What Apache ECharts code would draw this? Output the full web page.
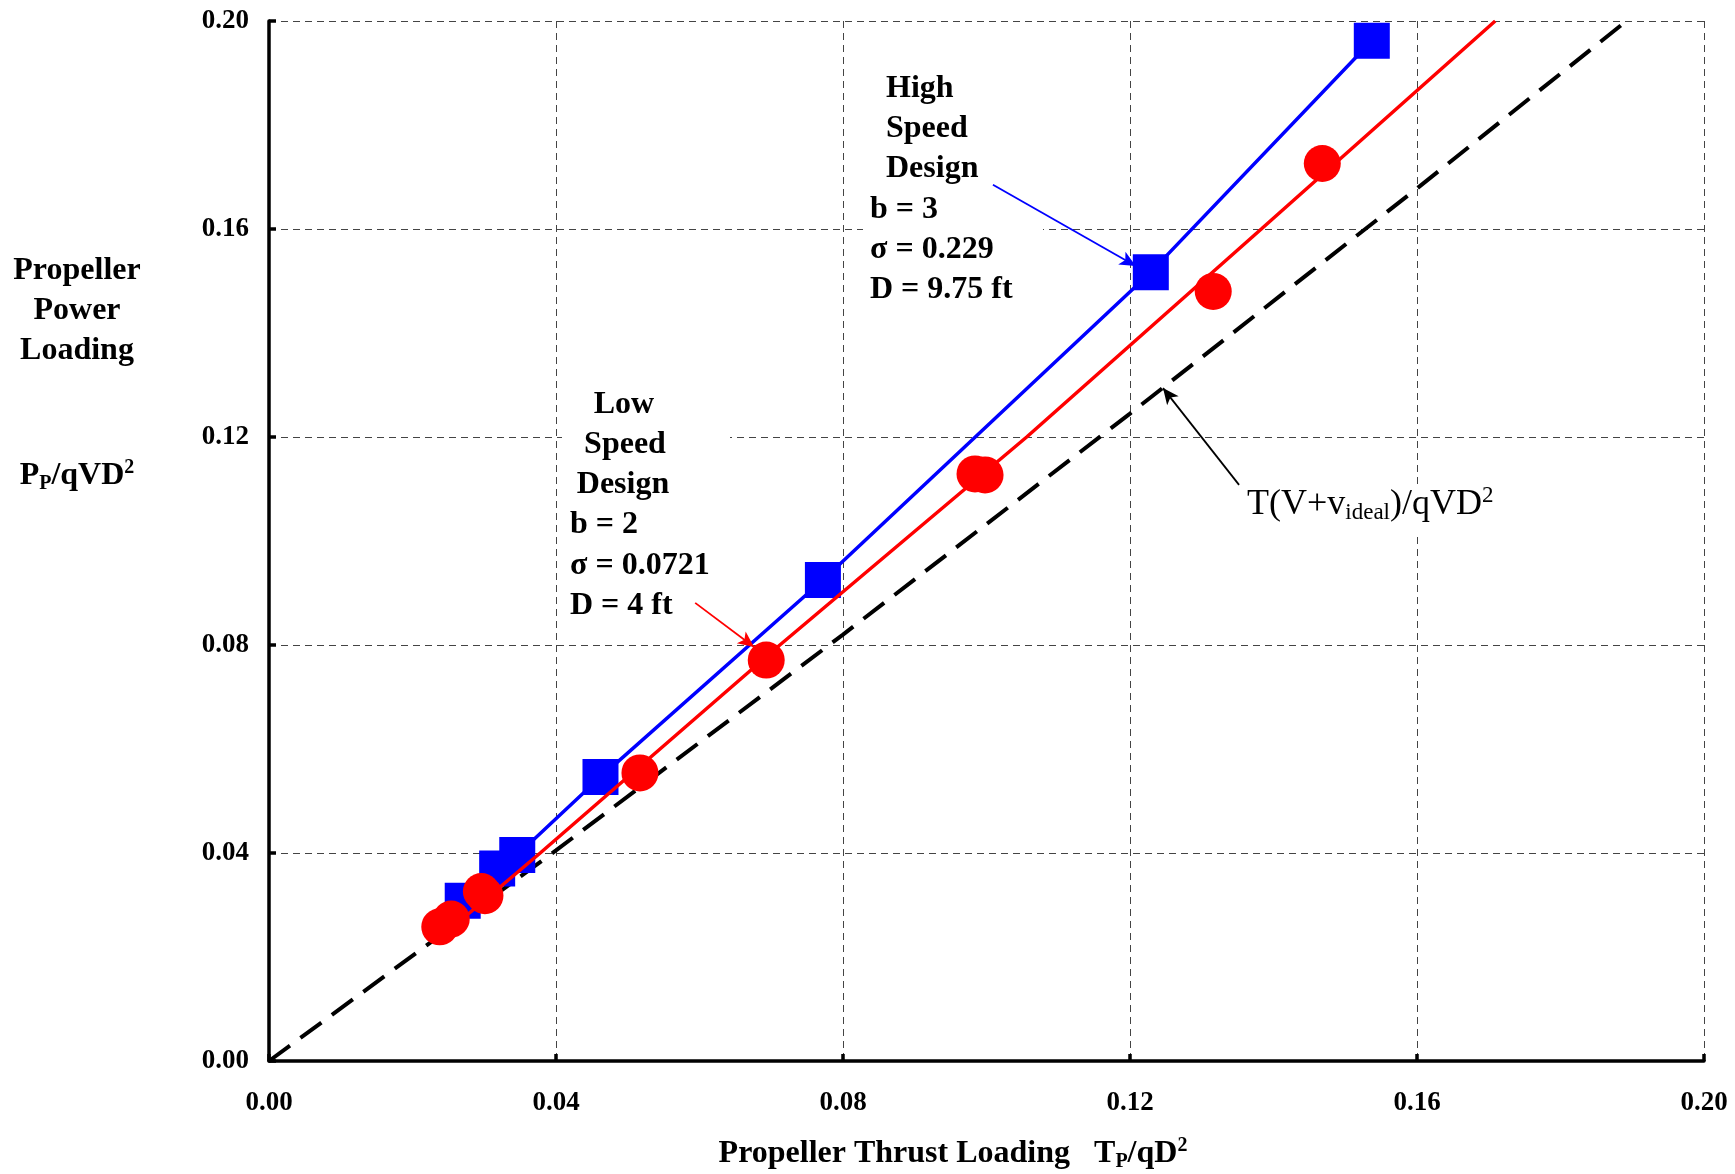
<!DOCTYPE html>
<html>
<head>
<meta charset="utf-8">
<script src="https://cdn.jsdelivr.net/npm/echarts@6/dist/echarts.min.js"></script>
<style>
html,body{margin:0;padding:0;background:#fff;}
#chart{width:1735px;height:1174px;}
</style>
</head>
<body>
<div id="chart"></div>
<script>
// ---- data ----
const xTicks = [0.00, 0.04, 0.08, 0.12, 0.16, 0.20];
const yTicks = [0.00, 0.04, 0.08, 0.12, 0.16, 0.20];

// High speed design (b = 3), blue squares joined by line
const highSpeed = [
  [0.0270, 0.0308], [0.0318, 0.0370], [0.0346, 0.0396], [0.0462, 0.0546],
  [0.0772, 0.0925], [0.1229, 0.1517], [0.1537, 0.1962]
];
// Low speed design (b = 2), red circles
const lowSpeed = [
  [0.0238, 0.0258], [0.0254, 0.0273], [0.0296, 0.0326], [0.0301, 0.0318],
  [0.0517, 0.0554], [0.0693, 0.0771], [0.0984, 0.1129], [0.0998, 0.1127],
  [0.1316, 0.1480], [0.1468, 0.1726]
];
// Red fitted curve through low speed data
const lowSpeedFit = [
  [0.0260, 0.0262], [0.0378, 0.0400], [0.0712, 0.0800], [0.1056, 0.1200],
  [0.1383, 0.1600], [0.1709, 0.2000]
];
// Ideal power  T(V+v_ideal)/qVD^2 (dashed)
const idealPower = [
  [0.000, 0.0000], [0.040, 0.0405], [0.080, 0.0820], [0.120, 0.1245],
  [0.160, 0.1678], [0.189, 0.1998]
];
// annotation arrows (tail -> head), in data units
const arrowHigh  = [[0.1009, 0.1685], [0.1208, 0.1529]];
const arrowLow   = [[0.0594, 0.0881], [0.0676, 0.0796]];
const arrowIdeal = [[0.1352, 0.1108], [0.1246, 0.1294]];

// ---- chart ----
const SERIF = '"Liberation Serif", "Times New Roman", serif';
const chart = echarts.init(document.getElementById('chart'), null, {renderer: 'canvas'});

function arrowLine(pts, color) {
  return {
    silent: true,
    symbol: ['none', 'arrow'],
    symbolSize: [11, 16],
    label: {show: false},
    lineStyle: {color: color, width: 1.8, type: 'solid'},
    emphasis: {disabled: true},
    animation: false,
    data: [[{coord: pts[0]}, {coord: pts[1]}]]
  };
}

const axisCommon = {
  type: 'value',
  min: 0, max: 0.2, interval: 0.04,
  axisLine: {show: true, onZero: false, lineStyle: {color: '#000', width: 3.5}},
  axisTick: {show: true, inside: true, length: 7, lineStyle: {color: '#000', width: 3.5}},
  splitLine: {show: true, lineStyle: {color: '#444', width: 1, type: [7, 5]}},
  axisLabel: {
    formatter: v => v.toFixed(2),
    fontFamily: SERIF, fontWeight: 'bold', fontSize: 27, color: '#000'
  }
};

const BOLD = 32;
function txt(x, y, text, opts) {
  opts = opts || {};
  return {
    type: 'text', x: x, y: y, z: 20, silent: true,
    style: Object.assign({
      text: text,
      font: (opts.weight || 'bold') + ' ' + (opts.size || BOLD) + 'px ' + SERIF,
      fill: '#000',
      textAlign: opts.align || 'left',
      textVerticalAlign: 'middle'
    }, opts.style || {})
  };
}
function rect(x, y, w, h) {
  return {type: 'rect', z: 1, silent: true, shape: {x: x, y: y, width: w, height: h}, style: {fill: '#fff'}};
}

const supSubRich = (size) => ({
  a: {fontFamily: SERIF, fontWeight: 'bold', fontSize: size, color: '#000'},
  sub: {fontFamily: SERIF, fontWeight: 'bold', fontSize: Math.round(size * 0.62), color: '#000', padding: [Math.round(size*0.5), 0, 0, 0]},
  sup: {fontFamily: SERIF, fontWeight: 'bold', fontSize: Math.round(size * 0.62), color: '#000', padding: [0, 0, Math.round(size*0.5), 0]}
});
const regRich = (size) => ({
  a: {fontFamily: SERIF, fontSize: size, color: '#000'},
  sub: {fontFamily: SERIF, fontSize: Math.round(size * 0.65), color: '#000', padding: [Math.round(size*0.45), 0, 0, 0]},
  sup: {fontFamily: SERIF, fontSize: Math.round(size * 0.65), color: '#000', padding: [0, 0, Math.round(size*0.5), 0]}
});

const option = {
  animation: false,
  backgroundColor: '#fff',
  grid: {left: 269, right: 31, top: 21, bottom: 113, containLabel: false},
  xAxis: Object.assign({}, axisCommon, {
    axisLabel: Object.assign({}, axisCommon.axisLabel, {margin: 29})
  }),
  yAxis: Object.assign({}, axisCommon, {
    axisLabel: Object.assign({}, axisCommon.axisLabel, {margin: 20})
  }),
  graphic: [
    rect(863, 62, 180, 245),
    rect(562, 385, 168, 240),
    rect(1240, 484, 262, 50),
    // y axis title
    txt(77, 271, 'Propeller', {align: 'center'}),
    txt(77, 311, 'Power', {align: 'center'}),
    txt(77, 351, 'Loading', {align: 'center'}),
    txt(77, 476, '', {align: 'center', style: {
      text: '{a|P}{sub|P}{a|/qVD}{sup|2}', rich: supSubRich(BOLD)
    }}),
    // x axis title
    txt(953, 1154, '', {align: 'center', style: {
      text: '{a|Propeller Thrust Loading   T}{sub|P}{a|/qD}{sup|2}', rich: supSubRich(BOLD)
    }}),
    // high speed annotation
    txt(886, 89, 'High'),
    txt(886, 129, 'Speed'),
    txt(886, 169, 'Design'),
    txt(870, 210, 'b = 3'),
    txt(870, 250, 'σ = 0.229'),
    txt(870, 290, 'D = 9.75 ft'),
    // low speed annotation
    txt(624, 405, 'Low', {align: 'center'}),
    txt(625, 445, 'Speed', {align: 'center'}),
    txt(623, 485, 'Design', {align: 'center'}),
    txt(570, 525, 'b = 2'),
    txt(570, 566, 'σ = 0.0721'),
    txt(570, 606, 'D = 4 ft'),
    // ideal label
    txt(1247, 505, '', {style: {
      text: '{a|T(V+v}{sub|ideal}{a|)/qVD}{sup|2}', rich: regRich(36)
    }})
  ],
  series: [
    {
      name: 'ideal', type: 'line', data: idealPower, symbol: 'none', z: 2,
      lineStyle: {color: '#000', width: 4, type: [26, 13]},
      markLine: arrowLine(arrowIdeal, '#000')
    },
    {
      name: 'high', type: 'line', data: highSpeed, z: 3,
      symbol: 'rect', symbolSize: 36, showSymbol: true,
      itemStyle: {color: '#0000ff', borderWidth: 0},
      lineStyle: {color: '#0000ff', width: 3.5},
      markLine: arrowLine(arrowHigh, '#0000ff')
    },
    {
      name: 'lowFit', type: 'line', data: lowSpeedFit, symbol: 'none', z: 4,
      lineStyle: {color: '#ff0000', width: 3.5},
      markLine: arrowLine(arrowLow, '#ff0000')
    },
    {
      name: 'low', type: 'scatter', data: lowSpeed, z: 5,
      symbol: 'circle', symbolSize: 37,
      itemStyle: {color: '#ff0000', opacity: 1, borderWidth: 0}
    }
  ]
};
chart.setOption(option);
</script>
</body>
</html>
